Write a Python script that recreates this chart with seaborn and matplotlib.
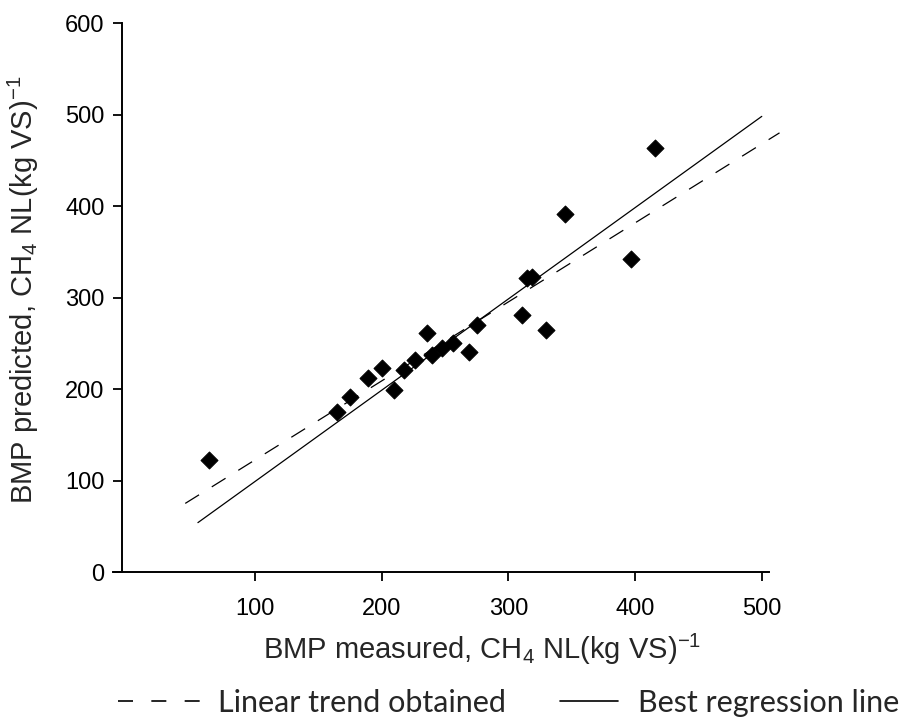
import numpy as np
import pandas as pd
import seaborn as sns
import matplotlib.pyplot as plt
from matplotlib.lines import Line2D

# measured vs predicted BMP
bmp_measured = [64, 165, 175, 189, 200, 210, 218, 226, 236, 240, 248, 256,
                269, 275, 311, 315, 319, 330, 345, 397, 416]
bmp_predicted = [122, 175, 191, 212, 223, 199, 221, 232, 261, 237, 245, 250,
                 241, 270, 281, 321, 322, 264, 391, 342, 463]

# the two lines, as end points
trend_x = [45, 514]
trend_y = [75, 480]
best_x = [55, 500]
best_y = [54, 498]

x_ticks = [100, 200, 300, 400, 500]
y_ticks = [0, 100, 200, 300, 400, 500, 600]

sns.set_style("ticks")
plt.rcParams["font.family"] = ["Liberation Sans", "DejaVu Sans"]
plt.rcParams["mathtext.fontset"] = "custom"
plt.rcParams["mathtext.rm"] = "Liberation Sans"
plt.rcParams["mathtext.it"] = "Liberation Sans:italic"

fig = plt.figure(figsize=(9.1, 7.18), dpi=100)
ax = fig.add_axes([0.1242, 0.2033, 0.7352, 0.7646])

df = pd.DataFrame({"measured": bmp_measured, "predicted": bmp_predicted})
df_trend = pd.DataFrame({"x": trend_x, "y": trend_y})
df_best = pd.DataFrame({"x": best_x, "y": best_y})

sns.lineplot(data=df_trend, x="x", y="y", ax=ax, color="black", lw=0.9,
             clip_on=False)
ax.lines[-1].set_dashes((13, 12))
sns.lineplot(data=df_best, x="x", y="y", ax=ax, color="black", lw=0.9)
sns.scatterplot(data=df, x="measured", y="predicted", ax=ax, marker="D",
                s=75, color="black", edgecolor="black", zorder=5)

ax.set_xlim(-12, 516)
ax.set_ylim(0, 600)
ax.set_xticks(x_ticks)
ax.set_yticks(y_ticks)
ax.tick_params(axis="both", direction="out", length=6.5, width=1.3,
               labelsize=17, colors="black")
ax.tick_params(axis="x", pad=12)
ax.tick_params(axis="y", pad=6)
sns.despine(ax=ax)
ax.spines["left"].set_position(("data", -5))
ax.spines["bottom"].set_bounds(-12, 506)
for s in ["left", "bottom"]:
    ax.spines[s].set_linewidth(1.4)
    ax.spines[s].set_color("black")

ax.set_xlabel(r"BMP measured, CH$_{4}$ NL(kg VS)$^{\mathrm{-1}}$", fontsize=21)
ax.xaxis.set_label_coords(0.552, -0.108)
ax.set_ylabel(r"BMP predicted, CH$_{4}$ NL(kg VS)$^{\mathrm{-1}}$",
              fontsize=21, labelpad=17)
ax.yaxis.label.set_y(0.514)

leg_font = {"family": "Lato", "size": 22}
dash_handle = Line2D([], [], color="black", lw=1.2, dashes=(9, 11))
solid_handle = Line2D([], [], color="black", lw=1.2)
fig.legend([dash_handle], ["Linear trend obtained"], loc="center left",
           bbox_to_anchor=(118 / 910, 15 / 718), frameon=False,
           borderpad=0, borderaxespad=0, handlelength=2.85,
           handletextpad=0.42, prop=leg_font)
fig.legend([solid_handle], ["Best regression line"], loc="center left",
           bbox_to_anchor=(560 / 910, 15 / 718), frameon=False,
           borderpad=0, borderaxespad=0, handlelength=1.9,
           handletextpad=0.65, prop=leg_font)

fig.savefig("out.png", dpi=100)
